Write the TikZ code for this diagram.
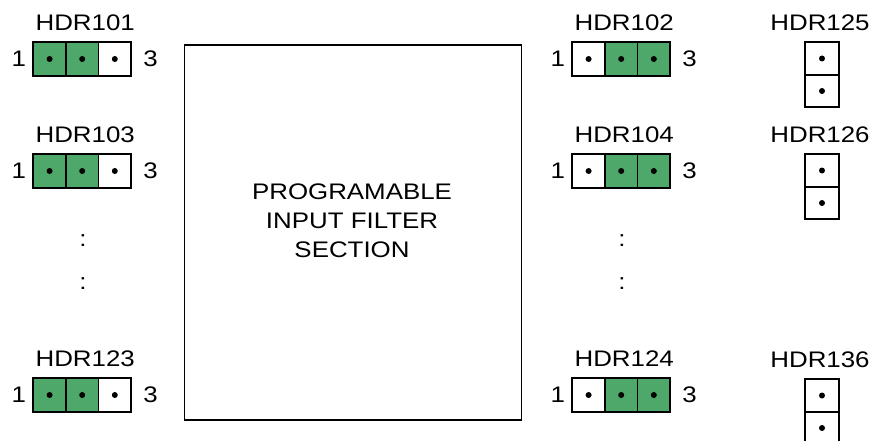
\documentclass[tikz,border=0pt]{standalone}
\usepackage{fontspec}
\setmainfont{Liberation Sans}[FakeStretch=1.15]
\usetikzlibrary{positioning}
\definecolor{jumpergreen}{RGB}{77,168,106}

\begin{document}
\begin{tikzpicture}[x=1pt, y=-1pt,
        font=\fontsize{22.5}{29}\selectfont,
        cell/.style={draw, line width=1.7pt, outer sep=0pt, inner sep=0pt,
            minimum width=32.6pt, minimum height=34pt},
        vcell/.style={cell, minimum width=33.5pt, minimum height=32.5pt},
        jumper/.style={fill=jumpergreen},
        lbl/.style={inner sep=0pt}]
        % 画面范围
        \useasboundingbox (0,0) rectangle (874,441);
        \clip (0,0) rectangle (874,441);

        % 左侧三针插座 (1-2 短接)
        \foreach \name/\y in {HDR101/59, HDR103/171, HDR123/395} {
            \node[cell, jumper] (\name-1) at (49.6,\y) {};
            \node[cell, jumper, right=0pt of \name-1] (\name-2) {};
            \node[cell, right=0pt of \name-2] (\name-3) {};
            \foreach \i in {1,2,3}
                \fill (\name-\i.center) circle (3pt);
            \node[lbl, above=11pt of \name-2, xshift=3pt] (\name-tag) {\name};
            \node[lbl, left=7pt of \name-1] (\name-one) {1};
            \node[lbl, right=12pt of \name-3] (\name-three) {3};
        }

        % 右侧三针插座 (2-3 短接)
        \foreach \name/\y in {HDR102/59, HDR104/171, HDR124/395} {
            \node[cell] (\name-1) at (588.6,\y) {};
            \node[cell, jumper, right=0pt of \name-1] (\name-2) {};
            \node[cell, jumper, right=0pt of \name-2] (\name-3) {};
            \foreach \i in {1,2,3}
                \fill (\name-\i.center) circle (3pt);
            \node[lbl, above=11pt of \name-2, xshift=3pt] (\name-tag) {\name};
            \node[lbl, left=7pt of \name-1] (\name-one) {1};
            \node[lbl, right=12pt of \name-3] (\name-three) {3};
        }

        % 竖直两针插座
        \foreach \name/\y in {HDR125/58.5, HDR126/170.5, HDR136/395.5} {
            \node[vcell] (\name-1) at (822,\y) {};
            \node[vcell, below=0pt of \name-1] (\name-2) {};
            \foreach \i in {1,2}
                \fill (\name-\i.center) circle (3pt);
            \node[lbl, above=11pt of \name-1, xshift=-2pt] (\name-tag) {\name};
        }

        % 省略号
        \node (leftdots1) at (83,241) {:};
        \node (leftdots2) at (83,284) {:};
        \node (rightdots1) at (622,241) {:};
        \node (rightdots2) at (622,284) {:};

        % 滤波区
        \node[draw, line width=1.7pt, minimum width=337pt, minimum height=375pt]
            (filter) at (353,232.5) {};
        \node[align=center, inner sep=0pt] (filter-text) at (352,220.5)
            {PROGRAMABLE\\INPUT FILTER\\SECTION};
    \end{tikzpicture}
\end{document}
